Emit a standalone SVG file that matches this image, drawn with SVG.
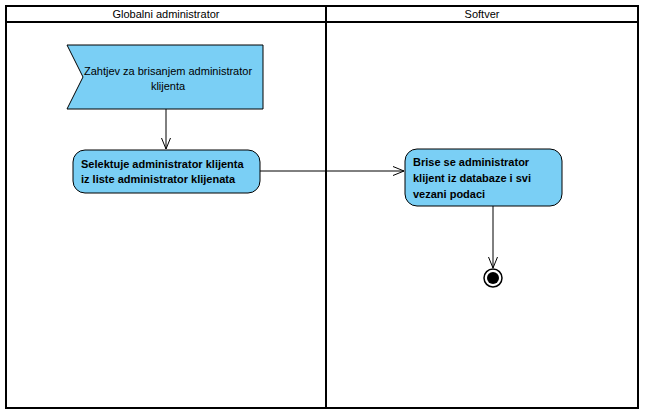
<svg xmlns="http://www.w3.org/2000/svg" width="647" height="413" viewBox="0 0 647 413">
<defs>
<style>
.lane{fill:#fff;stroke:#000;stroke-width:2}
.hdr{font-family:"Liberation Sans",Arial,sans-serif;font-size:11px;fill:#000;text-anchor:middle}
.node{fill:#7acff5;stroke:#000;stroke-width:1}
.t{font-family:"Liberation Sans",Arial,sans-serif;font-size:11px;fill:#000}
.b{font-weight:bold}
.edge{fill:none;stroke:#000;stroke-width:1}
</style>
<marker id="open" viewBox="0 0 12 12" refX="11" refY="6" markerWidth="12" markerHeight="12" markerUnits="userSpaceOnUse" orient="auto">
<path d="M0,1.5 L11,6 L0,10.5" fill="none" stroke="#000" stroke-width="1"/>
</marker>
</defs>
<g id="lanes">
<rect class="lane" x="6" y="6" width="320" height="402"/>
<rect class="lane" x="326" y="6" width="312" height="402"/>
<line x1="6" y1="22" x2="638" y2="22" stroke="#000" stroke-width="2"/>
<text class="hdr" x="166" y="18">Globalni administrator</text>
<text class="hdr" x="482" y="18">Softver</text>
</g>
<g id="edges">
<line class="edge" x1="166" y1="109" x2="166" y2="149" marker-end="url(#open)"/>
<line class="edge" x1="260" y1="171" x2="404" y2="171" marker-end="url(#open)"/>
<line class="edge" x1="493" y1="206" x2="493" y2="268" marker-end="url(#open)"/>
</g>
<g id="event">
<path class="node" d="M67,45 L263,45 L263,109 L67,109 L83,77 Z"/>
<text class="t" x="168" y="75" text-anchor="middle">Zahtjev za brisanjem administrator</text>
<text class="t" x="168" y="90" text-anchor="middle">klijenta</text>
</g>
<g id="select">
<rect class="node" x="73" y="150" width="187" height="43" rx="12" ry="12"/>
<text class="t b" x="81" y="168">Selektuje administrator klijenta</text>
<text class="t b" x="81" y="183">iz liste administrator klijenata</text>
</g>
<g id="delete">
<rect class="node" x="405" y="149" width="157" height="57" rx="12" ry="12"/>
<text class="t b" x="413" y="166">Brise se administrator</text>
<text class="t b" x="413" y="182">klijent iz databaze i svi</text>
<text class="t b" x="413" y="198">vezani podaci</text>
</g>
<g id="final">
<circle cx="493" cy="278" r="9" fill="#fff" stroke="#000" stroke-width="1.5"/>
<circle cx="493" cy="278" r="6" fill="#000"/>
</g>
</svg>
